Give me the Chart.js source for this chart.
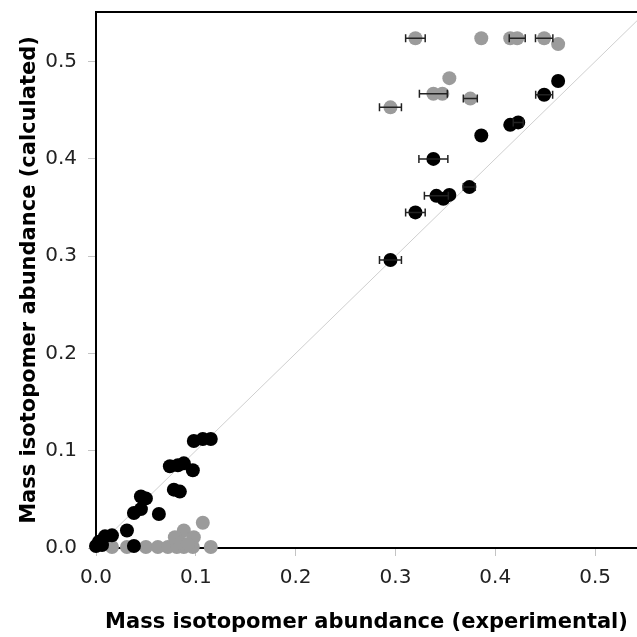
<!DOCTYPE html>
<html>
<head>
<meta charset="utf-8">
<script src="https://cdn.jsdelivr.net/npm/chart.js@4/dist/chart.umd.min.js"></script>
<style>
  html, body { margin: 0; padding: 0; background: #fff; overflow: hidden; }
  #wrap { width: 637px; height: 637px; position: relative; }
  canvas { display: block; }
</style>
</head>
<body>
<div id="wrap"><canvas id="chart"></canvas></div>
<script>
// experimental (x) vs calculated (y), with horizontal error on x
const blackX = [0.295, 0.320, 0.341, 0.348, 0.354, 0.374, 0.338, 0.386, 0.415, 0.423, 0.449, 0.463,
	0.098, 0.107, 0.115, 0.074, 0.082, 0.088, 0.097, 0.078, 0.084, 0.045, 0.050, 0.038, 0.045, 0.063,
	0.031, 0.016, 0.009, 0.003, 0.000, 0.006, 0.038];
const blackY = [0.296, 0.345, 0.362, 0.359, 0.363, 0.371, 0.400, 0.424, 0.435, 0.4375, 0.466, 0.480,
	0.110, 0.112, 0.112, 0.084, 0.085, 0.087, 0.080, 0.060, 0.058, 0.053, 0.051, 0.036, 0.040, 0.035,
	0.018, 0.013, 0.012, 0.0065, 0.002, 0.003, 0.002];
const blackErr = [0.011, 0.0098, 0.012, 0, 0, 0.006, 0.0145, 0, 0, 0.005, 0.0085, 0,
	0, 0, 0, 0, 0, 0, 0, 0, 0, 0, 0, 0, 0, 0, 0, 0, 0, 0, 0, 0, 0];

const greyX = [0.320, 0.386, 0.415, 0.422, 0.449, 0.463, 0.354, 0.338, 0.347, 0.375, 0.295,
	0.016, 0.031, 0.050, 0.062, 0.072, 0.081, 0.088, 0.097, 0.115,
	0.107, 0.088, 0.079, 0.098, 0.085, 0.092];
const greyY = [0.524, 0.524, 0.524, 0.524, 0.524, 0.518, 0.483, 0.467, 0.467, 0.462, 0.453,
	0.001, 0.001, 0.001, 0.001, 0.001, 0.001, 0.001, 0.001, 0.001,
	0.026, 0.018, 0.011, 0.011, 0.0055, 0.004];
const greyErr = [0.0098, 0, 0, 0.008, 0.0087, 0, 0, 0.014, 0, 0.007, 0.011,
	0, 0, 0, 0, 0, 0, 0, 0, 0,
	0, 0, 0, 0, 0, 0];

const identityLine = [0, 0.6];
const xTicks = [0.0, 0.1, 0.2, 0.3, 0.4, 0.5];
const yTicks = [0.0, 0.1, 0.2, 0.3, 0.4, 0.5];

const toPoints = (xs, ys) => xs.map((v, i) => ({x: v, y: ys[i]}));

// horizontal error bars, drawn over the points
const errorBars = {
	id: 'errorBars',
	afterDatasetsDraw(chart) {
		const {ctx, scales: {x, y}} = chart;
		ctx.save();
		ctx.strokeStyle = '#222';
		ctx.lineWidth = 1.5;
		chart.data.datasets.forEach(ds => {
			if (!ds.errors) return;
			ds.data.forEach((p, i) => {
				const e = ds.errors[i];
				if (!e) return;
				const x0 = x.getPixelForValue(p.x - e);
				const x1 = x.getPixelForValue(p.x + e);
				const py = y.getPixelForValue(p.y);
				ctx.beginPath();
				ctx.moveTo(x0, py); ctx.lineTo(x1, py);
				ctx.moveTo(x0, py - 4); ctx.lineTo(x0, py + 4);
				ctx.moveTo(x1, py - 4); ctx.lineTo(x1, py + 4);
				ctx.stroke();
			});
		});
		ctx.restore();
	},
};

const topFrame = {
	id: 'topFrame',
	afterDraw(chart) {
		const {ctx, chartArea} = chart;
		ctx.save();
		ctx.strokeStyle = '#000';
		ctx.lineWidth = 2;
		ctx.beginPath();
		ctx.moveTo(chartArea.left - 1, chartArea.top);
		ctx.lineTo(chartArea.right, chartArea.top);
		ctx.stroke();
		ctx.restore();
	},
};

Chart.defaults.font.family = '"DejaVu Sans", sans-serif';
Chart.defaults.color = '#222';

new Chart(document.getElementById('chart'), {
	type: 'scatter',
	data: {
		datasets: [
			{
				data: toPoints(blackX, blackY),
				errors: blackErr,
				backgroundColor: '#000',
				borderWidth: 0,
				pointRadius: 7,
				clip: false,
			},
			{
				data: toPoints(greyX, greyY),
				errors: greyErr,
				backgroundColor: '#9b9b9b',
				borderWidth: 0,
				pointRadius: 7,
				clip: false,
			},
			{
				type: 'line',
				data: toPoints(identityLine, identityLine),
				borderColor: '#cfcfcf',
				borderWidth: 1,
				pointRadius: 0,
			},
		],
	},
	options: {
		responsive: true,
		maintainAspectRatio: false,
		animation: false,
		layout: {autoPadding: false, padding: {top: 12, right: 0, left: 0, bottom: 0}},
		plugins: {legend: {display: false}, tooltip: {enabled: false}},
		scales: {
			x: {
				type: 'linear',
				min: 0,
				max: 0.542,
				afterBuildTicks: s => { s.ticks = xTicks.map(v => ({value: v})); },
				afterFit: s => { s.height = 89; s.paddingLeft = 0; s.paddingRight = 0; },
				border: {color: '#000', width: 2},
				grid: {drawOnChartArea: false, tickLength: 8, color: '#c4c4c4'},
				ticks: {font: {size: 20}, padding: 10, callback: v => v.toFixed(1)},
				title: {
					display: true,
					text: 'Mass isotopomer abundance (experimental)',
					font: {size: 21, weight: 'bold'},
					color: '#000',
					padding: {top: 0, bottom: 2},
				},
			},
			y: {
				type: 'linear',
				min: 0,
				max: 0.551,
				afterBuildTicks: s => { s.ticks = yTicks.map(v => ({value: v})); },
				afterFit: s => { s.width = 96; s.paddingTop = 0; s.paddingBottom = 0; },
				border: {color: '#000', width: 2},
				grid: {drawOnChartArea: false, tickLength: 8, color: '#c4c4c4'},
				ticks: {font: {size: 20}, padding: 11, callback: v => v.toFixed(1)},
				title: {
					display: true,
					text: 'Mass isotopomer abundance (calculated)',
					font: {size: 21, weight: 'bold'},
					color: '#000',
					padding: {top: 17, bottom: 0},
				},
			},
		},
	},
	plugins: [errorBars, topFrame],
});
</script>
</body>
</html>
